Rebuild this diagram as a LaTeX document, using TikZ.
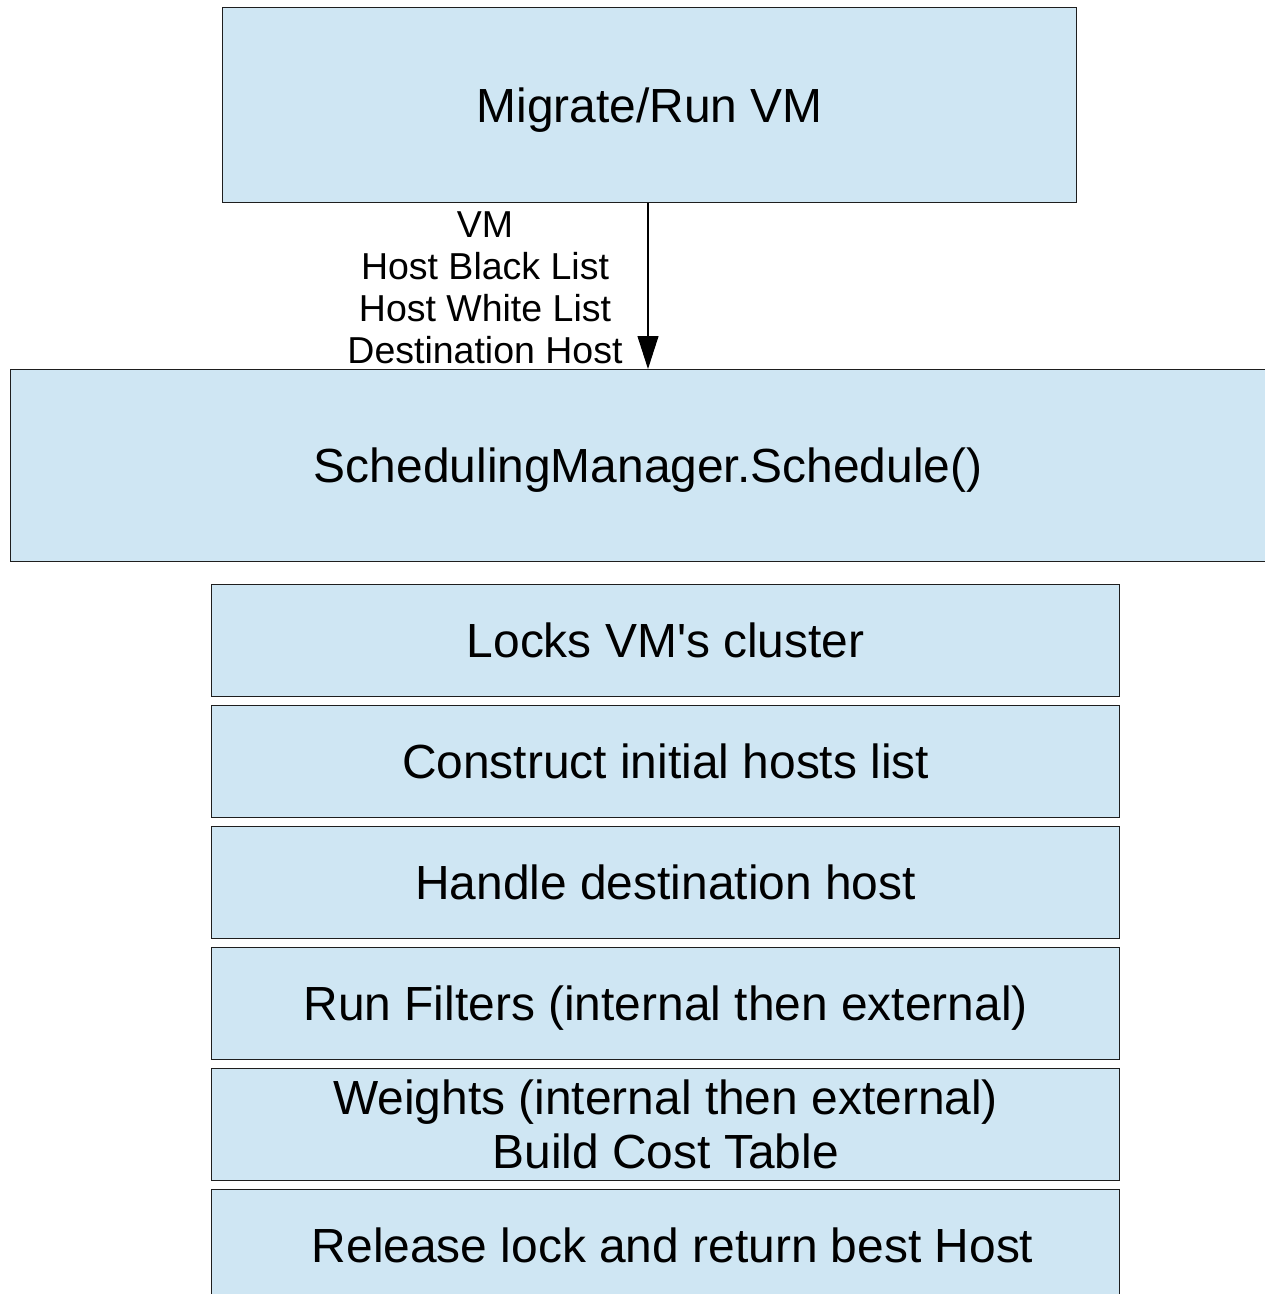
\documentclass[tikz,border=0pt]{standalone}
\usepackage{fontspec}
\setmainfont{Liberation Sans}
\usetikzlibrary{arrows.meta}
\definecolor{boxfill}{RGB}{207,230,243}
\definecolor{boxline}{RGB}{30,30,30}
\tikzset{
  x=1pt, y=-1pt,
  block/.style={draw=boxline, fill=boxfill, line width=1.3pt, inner sep=0pt,
    anchor=north west, font=\fontsize{47.9}{54}\selectfont,
    text height=34.3pt, text depth=0pt, align=center},
  stage/.style={block, minimum width=908pt, minimum height=112pt},
  flow/.style={line width=1.1pt, -{Triangle[length=33pt,width=21pt]}},
  params/.style={inner sep=0pt, align=center, font=\fontsize{37.5}{42}\selectfont}
}
\begin{document}
\begin{tikzpicture}
\clip (0,0) rectangle (1265,1294);
\fill[white] (0,0) rectangle (1265,1294);

\node[block, minimum width=854pt, minimum height=195pt] (run) at (222,7) {Migrate/Run VM};
\node[block, minimum width=1275pt, minimum height=192pt] (sched) at (10,369) {SchedulingManager.Schedule()};

\node[stage] (lock)    at (211,584)  {Locks VM\textquotesingle s cluster};
\node[stage] (hosts)   at (211,705)  {Construct initial hosts list};
\node[stage] (dest)    at (211,826)  {Handle destination host};
\node[stage] (filters) at (211,947)  {Run Filters (internal then external)};
\node[stage, text height=0pt] (weights) at (211,1068) {};
\node[stage, text height=0pt] (release) at (211,1189) {};

\node[font=\fontsize{47.9}{54}\selectfont, align=center, inner sep=0pt] (weightstext)
  at (weights.center) {Weights (internal then external)\\Build Cost Table};
\node[font=\fontsize{47.9}{54}\selectfont, inner sep=0pt, text height=34.3pt, text depth=0pt]
  (releasetext) at ([xshift=7pt]release.center) {Release lock and return best Host};

\draw[flow] (run.south -| 648,0) -- (sched.north -| 648,0);

\node[params] (args) at (485,288) {VM\\Host Black List\\Host White List\\Destination Host};
\end{tikzpicture}
\end{document}
